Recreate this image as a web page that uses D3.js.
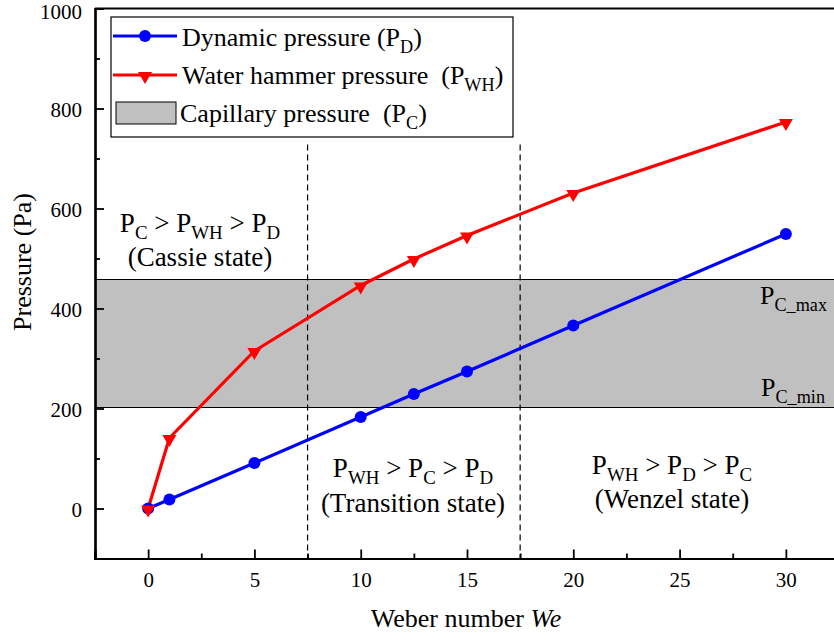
<!DOCTYPE html>
<html><head><meta charset="utf-8">
<script src="https://cdn.jsdelivr.net/npm/d3@7"></script>
<style>body{margin:0;background:#fff}svg{display:block}text{font-family:"Liberation Serif","Times New Roman",serif;fill:#000}</style>
</head><body>
<svg id="c" width="834" height="640"></svg>
<script>
const weber = [0, 1, 5, 10, 12.5, 15, 20, 30];
const dynamicP = [0, 18, 91, 183, 229, 274, 366, 549];
const hammerP = [0, 141, 315, 446, 499, 546, 631, 773];
const capMin = 202, capMax = 458;
const boundaries = [7.5, 17.5];
const xTicks = [0, 5, 10, 15, 20, 25, 30];
const xMinor = [-2.5, 2.5, 7.5, 12.5, 17.5, 22.5, 27.5, 32.5];
const yTicks = [0, 200, 400, 600, 800, 1000];
const yMinor = [-100, 100, 300, 500, 700, 900];

const svg = d3.select("#c");
const L = 95, R = 839, T = 8.5, B = 558.5;
const x = d3.scaleLinear().domain([-2.5, 32.5]).range([L, R]);
const y = d3.scaleLinear().domain([-100, 1000]).range([B, T]);

// capillary band
svg.append("rect").attr("x", L).attr("width", R - L)
  .attr("y", y(capMax)).attr("height", y(capMin) - y(capMax))
  .attr("fill", "#c0c0c0");
[capMin, capMax].forEach(v => svg.append("line").attr("x1", L).attr("x2", R)
  .attr("y1", y(v)).attr("y2", y(v)).attr("stroke", "#000").attr("stroke-width", 1));

// dashed boundaries
boundaries.forEach(v => svg.append("line").attr("x1", x(v)).attr("x2", x(v))
  .attr("y1", y(728)).attr("y2", B).attr("stroke", "#000").attr("stroke-width", 1.2)
  .attr("stroke-dasharray", "6,4"));

// axes
const axB = svg.append("g").attr("transform", `translate(0,${B})`)
  .call(d3.axisBottom(x).tickValues(xTicks).tickSize(-9).tickPadding(14).tickFormat(d3.format("d")));
const axBm = svg.append("g").attr("transform", `translate(0,${B})`)
  .call(d3.axisBottom(x).tickValues(xMinor).tickSize(-5).tickFormat(""));
const axL = svg.append("g").attr("transform", `translate(${L},0)`)
  .call(d3.axisLeft(y).tickValues(yTicks).tickSize(-9).tickPadding(13).tickFormat(d3.format("d")));
const axLm = svg.append("g").attr("transform", `translate(${L},0)`)
  .call(d3.axisLeft(y).tickValues(yMinor).tickSize(-5).tickFormat(""));
[axB, axBm, axL, axLm].forEach(g => {
  g.attr("font-family", null).attr("font-size", null);
  g.select(".domain").attr("stroke-width", 2.2);
  g.selectAll(".tick line").attr("stroke-width", 1.8);
  g.selectAll("text").style("font-family", "'Liberation Serif', serif").style("font-size", "21px").attr("fill", "#000");
});
axL.selectAll(".tick text").attr("dy", d => d === 1000 ? "0.46em" : "0.36em");
// top frame
svg.append("line").attr("x1", L).attr("x2", R).attr("y1", T).attr("y2", T).attr("stroke", "#000").attr("stroke-width", 2.2);

// lines
const line = d3.line().x((d, i) => x(weber[i])).y(d => y(d));
svg.append("path").datum(dynamicP).attr("d", line).attr("fill", "none").attr("stroke", "#0000ff").attr("stroke-width", 3.2);
svg.append("path").datum(hammerP).attr("d", line).attr("fill", "none").attr("stroke", "#ff0000").attr("stroke-width", 3.2);
svg.selectAll(".dot").data(dynamicP).enter().append("circle")
  .attr("cx", (d, i) => x(weber[i])).attr("cy", d => y(d)).attr("r", 6).attr("fill", "#0000ff");
const tri = d3.symbol().type(d3.symbolTriangle).size(85);
svg.selectAll(".tri").data(hammerP).enter().append("path")
  .attr("d", tri).attr("fill", "#ff0000")
  .attr("transform", (d, i) => `translate(${x(weber[i])},${y(d) + 1}) rotate(180)`);

// rich text helper: parts [[text, sub?]]
function rich(xp, yp, parts, size, anchor) {
  const t = svg.append("text").attr("x", xp).attr("y", yp).attr("text-anchor", anchor || "start")
    .style("font-size", size + "px");
  let sub = false;
  parts.forEach(p => {
    const isSub = !!p[1];
    const s = t.append("tspan").text(p[0]);
    if (isSub && !sub) s.attr("dy", size * 0.26);
    if (!isSub && sub) s.attr("dy", -size * 0.26);
    if (isSub) s.style("font-size", (size * 0.7) + "px");
    sub = isSub;
  });
  return t;
}
const SP = "\u00a0";

// legend
svg.append("rect").attr("x", 111).attr("y", 17).attr("width", 402).attr("height", 120)
  .attr("fill", "#fff").attr("stroke", "#000").attr("stroke-width", 1.2);
svg.append("line").attr("x1", 113).attr("x2", 177).attr("y1", 36).attr("y2", 36).attr("stroke", "#0000ff").attr("stroke-width", 3.2);
svg.append("circle").attr("cx", 145).attr("cy", 36).attr("r", 6).attr("fill", "#0000ff");
svg.append("line").attr("x1", 113).attr("x2", 177).attr("y1", 75).attr("y2", 75).attr("stroke", "#ff0000").attr("stroke-width", 3.2);
svg.append("path").attr("d", tri).attr("fill", "#ff0000").attr("transform", "translate(145,76) rotate(180)");
svg.append("rect").attr("x", 116).attr("y", 102).attr("width", 60).attr("height", 22)
  .attr("fill", "#c0c0c0").attr("stroke", "#000").attr("stroke-width", 1);
rich(182, 46, [["Dynamic pressure (P"], ["D", 1], [")"]], 26);
rich(182, 84, [["Water hammer pressure" + SP + SP + "(P"], ["WH", 1], [")"]], 26);
rich(180, 122, [["Capillary pressure" + SP + SP + "(P"], ["C", 1], [")"]], 26);

// annotations
rich(200, 232, [["P"], ["C", 1], [" > P"], ["WH", 1], [" > P"], ["D", 1]], 27, "middle");
rich(200, 266, [["(Cassie state)"]], 27, "middle");
rich(413, 477, [["P"], ["WH", 1], [" > P"], ["C", 1], [" > P"], ["D", 1]], 27, "middle");
rich(413, 512, [["(Transition state)"]], 27, "middle");
rich(672, 474, [["P"], ["WH", 1], [" > P"], ["D", 1], [" > P"], ["C", 1]], 27, "middle");
rich(672, 508, [["(Wenzel state)"]], 27, "middle");
rich(827, 304, [["P"], ["C_max", 1]], 26, "end");
rich(825, 396, [["P"], ["C_min", 1]], 26, "end");

// axis titles
svg.append("text").attr("transform", "translate(31,262) rotate(-90)").attr("text-anchor", "middle")
  .style("font-size", "26px").text("Pressure (Pa)");
const xt = svg.append("text").attr("x", 466).attr("y", 627).attr("text-anchor", "middle").style("font-size", "26px");
xt.append("tspan").text("Weber number ");
xt.append("tspan").style("font-style", "italic").text("We");
</script>
</body></html>
